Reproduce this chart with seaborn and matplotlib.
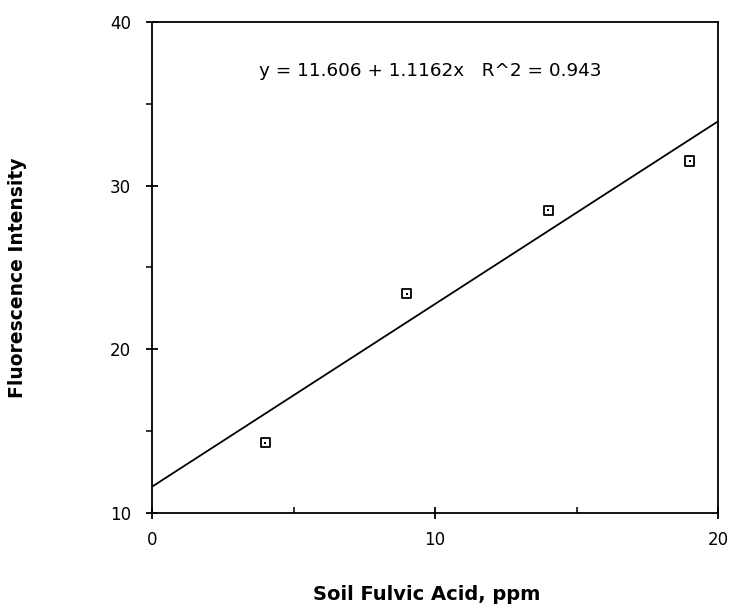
import numpy as np
import pandas as pd
import matplotlib
matplotlib.use("Agg")
import matplotlib.pyplot as plt
import seaborn as sns
from matplotlib.ticker import MultipleLocator

# Data
fulvic_ppm = [4, 9, 14, 19]
fluorescence = [14.3, 23.4, 28.5, 31.5]
intercept = 11.606
slope = 1.1162
fit_range = [0, 20]
equation_label = "y = 11.606 + 1.1162x   R^2 = 0.943"

sns.set_style("white")
plt.rcParams['font.family'] = ['DejaVu Sans']
plt.rcParams['text.color'] = 'black'
plt.rcParams['axes.labelcolor'] = 'black'

fig = plt.figure(figsize=(7.32, 6.11), dpi=100)
ax = fig.add_axes([152 / 732, 98 / 611, 566 / 732, 491 / 611])

pts = pd.DataFrame({"x": fulvic_ppm, "y": fluorescence})
fit_x = np.array(fit_range, dtype=float)
fit = pd.DataFrame({"x": fit_x, "y": intercept + slope * fit_x})

sns.lineplot(data=fit, x="x", y="y", ax=ax, color="black", linewidth=1.3)
sns.scatterplot(data=pts, x="x", y="y", ax=ax, marker="s", s=45,
                facecolor="none", edgecolor="black", linewidth=1.3, zorder=3)
sns.scatterplot(data=pts, x="x", y="y", ax=ax, marker="s", s=3,
                color="black", linewidth=0, zorder=4)

ax.set_xlim(0, 20)
ax.set_ylim(10, 40)
ax.xaxis.set_major_locator(MultipleLocator(10))
ax.xaxis.set_minor_locator(MultipleLocator(5))
ax.yaxis.set_major_locator(MultipleLocator(10))
ax.yaxis.set_minor_locator(MultipleLocator(5))
ax.tick_params(which="major", direction="inout", length=8, width=1.3,
               labelsize=12, colors="black", left=True, bottom=True)
ax.tick_params(axis="y", which="major", pad=11)
ax.tick_params(axis="x", which="major", pad=9)
ax.tick_params(axis="x", which="minor", direction="in", length=4, width=1.3, bottom=True)
ax.tick_params(axis="y", which="minor", direction="out", length=4, width=1.3, left=True)
for s in ax.spines.values():
    s.set_color("black")
    s.set_linewidth(1.3)

ax.set_xlabel("Soil Fulvic Acid, ppm", fontsize=14, fontweight="bold")
ax.set_ylabel("Fluorescence Intensity", fontsize=13.5, fontweight="bold")
ax.xaxis.label.set_va("center")
ax.yaxis.label.set_va("center")
ax.xaxis.set_label_coords(0.486, -0.167)
ax.yaxis.set_label_coords(-0.237, 0.479)

ax.text(9.82, 37.0, equation_label, ha="center", va="center", fontsize=13.2)

fig.savefig("out.png", dpi=100, facecolor="white")
